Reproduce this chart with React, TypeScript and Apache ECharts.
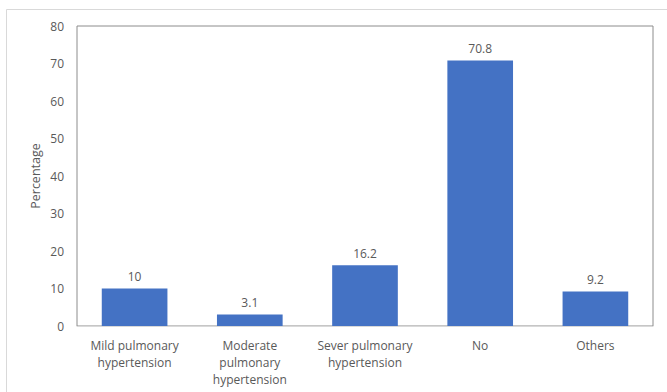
import React, { useEffect, useRef } from "react";
import * as echarts from "echarts";

const categories = [
  "Mild pulmonary\nhypertension",
  "Moderate\npulmonary\nhypertension",
  "Sever pulmonary\nhypertension",
  "No",
  "Others",
];
const percentages = [10, 3.1, 16.2, 70.8, 9.2];

const FONT = "'Open Sans', 'Noto Sans', sans-serif";
const TEXT = "#595959";

export default function App() {
  const ref = useRef<HTMLDivElement>(null);

  useEffect(() => {
    if (!ref.current) return;
    const chart = echarts.init(ref.current, null, { renderer: "svg" });
    chart.setOption({
      animation: false,
      backgroundColor: "#ffffff",
      textStyle: { fontFamily: FONT },
      graphic: [
        {
          type: "rect",
          shape: { x: 6.5, y: 9.5, width: 680, height: 400 },
          style: { fill: "none", stroke: "#d9d9d9", lineWidth: 1 },
          silent: true,
        },
      ],
      grid: {
        left: 77,
        right: 14,
        top: 26,
        bottom: 66,
        show: true,
        borderColor: "#8c8c8c",
        borderWidth: 1,
      },
      xAxis: {
        type: "category",
        data: categories,
        axisLine: { show: true, lineStyle: { color: "#d9d9d9", width: 1 } },
        axisTick: { show: false },
        axisLabel: {
          color: TEXT,
          fontSize: 12,
          fontFamily: FONT,
          lineHeight: 17,
          margin: 11,
          interval: 0,
        },
      },
      yAxis: {
        type: "value",
        min: 0,
        max: 80,
        interval: 10,
        name: "Percentage",
        nameLocation: "middle",
        nameGap: 35,
        nameMoveOverlap: false,
        nameTextStyle: { color: TEXT, fontSize: 12.5, fontFamily: FONT },
        axisLine: { show: false },
        axisTick: { show: false },
        splitLine: { show: false },
        axisLabel: { color: TEXT, fontSize: 12, fontFamily: FONT, margin: 13 },
      },
      series: [
        {
          type: "bar",
          data: percentages,
          barWidth: "57%",
          itemStyle: { color: "#4472c4" },
          label: {
            show: true,
            position: "top",
            distance: 6,
            color: TEXT,
            fontSize: 12,
            fontFamily: FONT,
          },
        },
      ],
    });
    return () => chart.dispose();
  }, []);

  return (
    <div
      ref={ref}
      style={{ position: "fixed", left: 0, top: 0, width: 667, height: 392 }}
    />
  );
}
